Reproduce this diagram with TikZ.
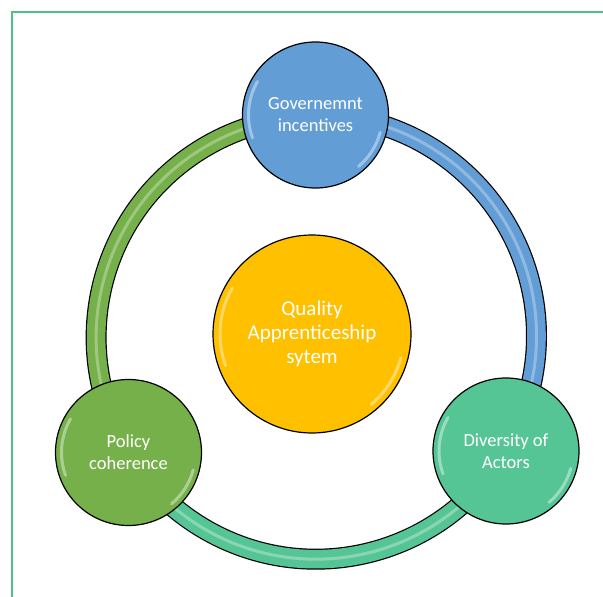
\documentclass[tikz,border=0pt]{standalone}
\usepackage{fontspec}
\setmainfont{Carlito}
\usetikzlibrary{positioning,backgrounds}
\definecolor{govblue}{RGB}{98,157,213}
\definecolor{actteal}{RGB}{86,197,150}
\definecolor{polgreen}{RGB}{118,176,74}
\definecolor{qualgold}{RGB}{255,192,0}
\definecolor{framegreen}{RGB}{72,196,138}
\tikzset{font=\fontsize{18.5}{22}\selectfont}
\tikzset{
  ball/.style={circle, draw=black, line width=1.2pt, text=white, align=center,
    minimum size=146pt, inner sep=0pt},
  ringline/.style={line width=21pt, draw=black},
  ringfill/.style={line width=18.6pt},
  ringshine/.style={line width=3pt, draw=white, opacity=0.3},
  gloss/.style={draw=white, line width=3pt, opacity=0.4, line cap=round},
}

\begin{document}
\begin{tikzpicture}[x=1pt,y=1pt]
  \useasboundingbox (0,0) rectangle (603,-597);
  \begin{scope}
    \clip (0,0) rectangle (603,-597);
    \draw[framegreen, line width=2pt] (11.5,-11.5) rectangle (640,-640);
  \end{scope}

  % outer balls and the centre
  \node[ball, fill=govblue] (gov) at (315.5,-115) {Governemnt\\incentives};
  \node[ball, fill=actteal] (actors) at (506,-451) {Diversity of\\Actors};
  \node[ball, fill=polgreen] (policy) at (128.5,-452.5) {Policy\\coherence};
  \node[ball, fill=qualgold, minimum size=198pt, font=\fontsize{21}{24}\selectfont]
    (quality) at (312,-334) {Quality\\Apprenticeship\\sytem};

  % ring behind the balls
  \begin{scope}[on background layer]
    \draw[ringline] (gov.center) arc[start angle=90, end angle=-30.7, radius=221];
    \draw[ringfill, govblue] (gov.center) arc[start angle=90, end angle=-30.7, radius=221];
    \draw[ringshine] (gov.center) arc[start angle=90, end angle=-30.7, radius=221];
    \draw[ringline] (actors.center) arc[start angle=-30.7, end angle=-148.6, radius=221];
    \draw[ringfill, actteal] (actors.center) arc[start angle=-30.7, end angle=-148.6, radius=221];
    \draw[ringshine] (actors.center) arc[start angle=-30.7, end angle=-148.6, radius=221];
    \draw[ringline] (policy.center) arc[start angle=211.4, end angle=90, radius=221];
    \draw[ringfill, polgreen] (policy.center) arc[start angle=211.4, end angle=90, radius=221];
    \draw[ringshine] (policy.center) arc[start angle=211.4, end angle=90, radius=221];
  \end{scope}

  % glossy edges
  \foreach \b/\r in {gov/67, actors/67, policy/67, quality/92} {
    \draw[gloss] ([shift={(150:\r)}]\b.center) arc[start angle=150, end angle=200, radius=\r];
    \draw[gloss] ([shift={(-15:\r)}]\b.center) arc[start angle=-15, end angle=-50, radius=\r];
  }
\end{tikzpicture}
\end{document}
